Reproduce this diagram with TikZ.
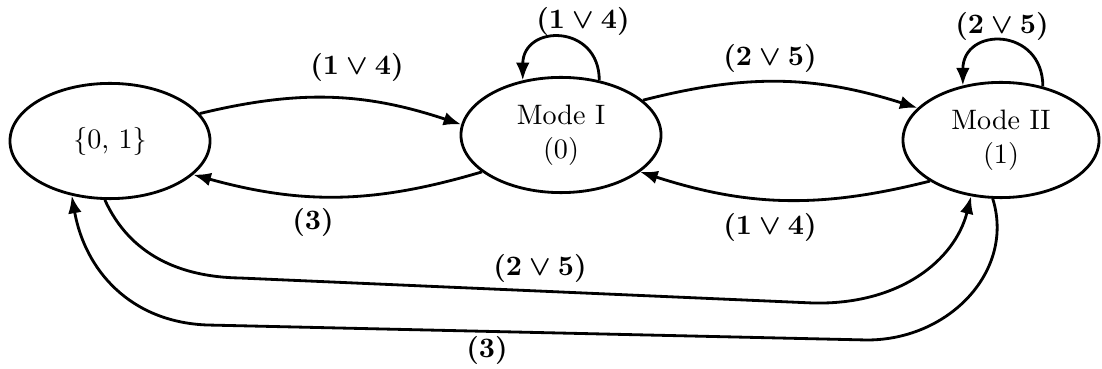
\documentclass[tikz,border=0pt]{standalone}
\usetikzlibrary{shapes.geometric,arrows.meta}
\begin{document}
\begin{tikzpicture}[x=0.0125cm, y=-0.0125cm, line width=1pt,
    state/.style={draw, ellipse, minimum width=2.5cm, minimum height=1.44cm, inner sep=0pt, align=center},
    cond/.style={font=\boldmath\bfseries},
    conn/.style={-{Latex[length=2.2mm, width=1.7mm]}}]
    \useasboundingbox (0,0) rectangle (1102,369);

    % Zustaende
    \node[state] (s01) at (110,141) {\{0,\ 1\}};
    \node[state] (m1) at (561,135) {Mode I\\(0)};
    \node[state, minimum width=2.45cm] (m2) at (1001,140) {Mode II\\(1)};

    % Uebergaenge oben
    \draw[conn] (s01.17) to[bend left=16] (m1.174);
    \draw[conn] (m1.205) to[bend left=16] (s01.338);
    \draw[conn] (m1.23) to[bend left=16] (m2.159);
    \draw[conn] (m2.210) to[bend left=16] (m1.335);

    % Schleifen
    \draw[conn] (m1.55) to[out=90, in=90, looseness=1.9] (m1.125);
    \draw[conn] (m2.52) to[out=90, in=90, looseness=1.9] (m2.125);

    % lange Boegen unten
    \draw[conn] (s01.265) .. controls (130,255) and (180,277) .. (240,278)
        -- (813,303) .. controls (900,305) and (955,260) .. (m2.242);
    \draw[conn] (m2.262) .. controls (1015,270) and (950,340) .. (867,340)
        -- (207,325) .. controls (130,322) and (85,270) .. (s01.235);

    % Bedingungen
    \node[cond] (c1) at (357,67) {$(1 \vee 4)$};
    \node[cond] (c2) at (313,222) {$(3)$};
    \node[cond] (c3) at (583,21) {$(1 \vee 4)$};
    \node[cond] (c4) at (770,58) {$(2 \vee 5)$};
    \node[cond] (c5) at (1002,26) {$(2 \vee 5)$};
    \node[cond] (c6) at (770,227) {$(1 \vee 4)$};
    \node[cond] (c7) at (540,268) {$(2 \vee 5)$};
    \node[cond] (c8) at (487,350) {$(3)$};
\end{tikzpicture}
\end{document}
